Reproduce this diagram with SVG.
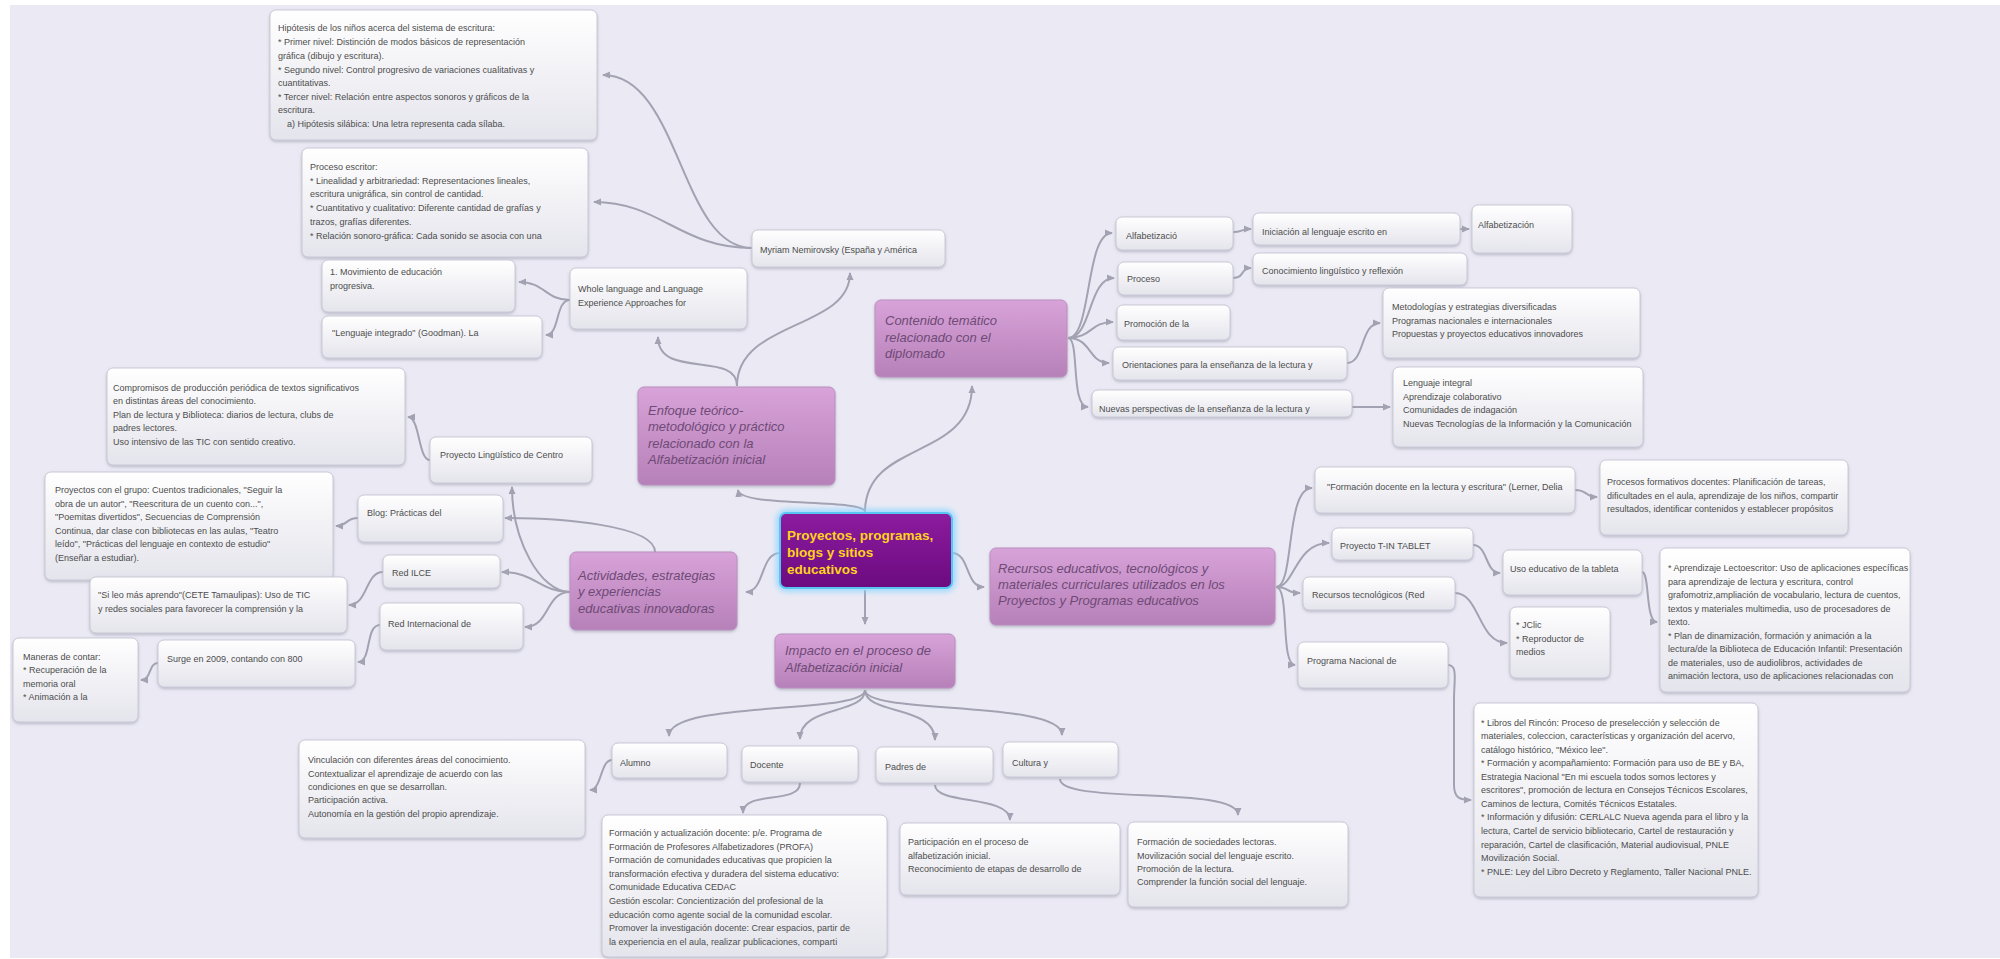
<svg xmlns="http://www.w3.org/2000/svg" width="2000" height="959" viewBox="0 0 2000 959">
<defs>
<linearGradient id="gw" x1="0" y1="0" x2="0" y2="1"><stop offset="0" stop-color="#ffffff"/><stop offset="1" stop-color="#e4e4ec"/></linearGradient>
<linearGradient id="gp" x1="0" y1="0" x2="0" y2="1"><stop offset="0" stop-color="#d8a3d9"/><stop offset="1" stop-color="#b680b8"/></linearGradient>
<linearGradient id="gc" x1="0" y1="0" x2="0" y2="1"><stop offset="0" stop-color="#8c1c9e"/><stop offset="1" stop-color="#6c0a80"/></linearGradient>
<filter id="sh" x="-10%" y="-10%" width="120%" height="130%"><feDropShadow dx="0" dy="1.5" stdDeviation="1.5" flood-color="#8e8ea4" flood-opacity="0.55"/></filter>
<filter id="glow" x="-20%" y="-20%" width="140%" height="140%"><feGaussianBlur stdDeviation="3"/></filter>
<marker id="ar" markerUnits="userSpaceOnUse" markerWidth="9" markerHeight="9" refX="7" refY="4" orient="auto"><path d="M0,0.5 L8,4 L0,7.5 z" fill="#a2a2b2"/></marker>
<style>
.n{fill:url(#gw);stroke:#cacad8;stroke-width:1;filter:url(#sh)}
.m{fill:url(#gp);stroke:#bb8fc0;stroke-width:1;filter:url(#sh)}
.t{font-family:"Liberation Sans",Arial,sans-serif;font-size:9px;fill:#4d4d4d}
.mt{font-family:"Liberation Sans",Arial,sans-serif;font-size:13px;font-style:italic;fill:#6e4a76}
.ct{font-family:"Liberation Sans",Arial,sans-serif;font-size:13.5px;font-weight:bold;fill:#ffd21c}
#links path{fill:none;stroke:#a2a2b2;stroke-width:2;marker-end:url(#ar)}
</style>
</defs>
<rect x="0" y="0" width="2000" height="959" fill="#ffffff"/>
<rect x="10" y="5" width="1990" height="953" fill="#ebeaf4"/>

<g id="links">
<path d="M865,512 C865,498 740,508 738,490"/>
<path d="M865,512 C865,440 972,460 972,386"/>
<path d="M780,553 C760,553 765,592 746,592"/>
<path d="M865,590 L865,624"/>
<path d="M952,553 C970,553 965,587 984,587"/>
<path d="M737,386 C737,350 658,380 658,337"/>
<path d="M737,386 C737,320 850,330 850,273"/>
<path d="M752,248 C680,248 680,75 603,75"/>
<path d="M752,248 C680,248 660,202 594,202"/>
<path d="M570,300 C545,300 545,282 519,282"/>
<path d="M570,300 C555,300 560,335 546,335"/>
<path d="M1068,338 C1092,338 1085,233 1112,233"/>
<path d="M1068,338 C1092,338 1088,278 1114,278"/>
<path d="M1068,338 C1092,338 1090,322 1113,322"/>
<path d="M1068,338 C1092,338 1088,363 1109,363"/>
<path d="M1068,338 C1080,338 1070,407 1088,407"/>
<path d="M1233,232 C1243,232 1240,229 1251,229"/>
<path d="M1460,229 L1469,229"/>
<path d="M1233,278 C1245,278 1240,268 1251,268"/>
<path d="M1347,363 C1365,363 1360,323 1380,323"/>
<path d="M1352,407 L1390,407"/>
<path d="M1276,587 C1295,587 1285,488 1312,488"/>
<path d="M1276,587 C1295,587 1295,543 1329,543"/>
<path d="M1276,587 C1290,587 1285,593 1300,593"/>
<path d="M1276,587 C1290,587 1280,665 1295,665"/>
<path d="M1575,490 C1588,490 1585,497 1597,497"/>
<path d="M1473,545 C1488,545 1485,573 1500,573"/>
<path d="M1455,593 C1480,593 1478,643 1507,643"/>
<path d="M1642,572 C1650,572 1645,622 1657,622"/>
<path d="M1448,665 C1458,665 1454,680 1454,700 L1454,785 C1454,798 1460,800 1471,800"/>
<path d="M570,592 C540,592 512,540 512,487"/>
<path d="M655,552 C655,525 560,518 505,518"/>
<path d="M570,592 C540,592 535,572 502,572"/>
<path d="M570,592 C545,592 550,627 525,627"/>
<path d="M430,460 C418,460 420,417 408,417"/>
<path d="M358,518 C345,518 348,526 336,526"/>
<path d="M383,572 C365,572 368,605 349,605"/>
<path d="M380,625 C365,625 372,662 358,662"/>
<path d="M158,663 C148,663 152,680 141,680"/>
<path d="M865,690 C865,715 669,700 669,736"/>
<path d="M865,690 C865,715 800,705 800,739"/>
<path d="M865,690 C865,715 935,705 935,740"/>
<path d="M865,690 C865,715 1062,700 1062,735"/>
<path d="M612,760 C600,760 602,790 590,790"/>
<path d="M800,783 C800,805 743,790 743,813"/>
<path d="M935,785 C935,805 1010,795 1010,820"/>
<path d="M1060,779 C1060,805 1238,785 1238,815"/>
</g>

<g id="n-hipotesis"><rect class="n" x="270" y="10" width="327" height="130" rx="6"/>
<text class="t" x="278" y="31">Hipótesis de los niños acerca del sistema de escritura:</text>
<text class="t" x="278" y="45">* Primer nivel: Distinción de modos básicos de representación</text>
<text class="t" x="278" y="59">gráfica (dibujo y escritura).</text>
<text class="t" x="278" y="73">* Segundo nivel: Control progresivo de variaciones cualitativas y</text>
<text class="t" x="278" y="86">cuantitativas.</text>
<text class="t" x="278" y="100">* Tercer nivel: Relación entre aspectos sonoros y gráficos de la</text>
<text class="t" x="278" y="113">escritura.</text>
<text class="t" x="287" y="127">a) Hipótesis silábica: Una letra representa cada sílaba.</text></g>

<g id="n-proceso-escritor"><rect class="n" x="302" y="148" width="286" height="109" rx="6"/>
<text class="t" x="310" y="170">Proceso escritor:</text>
<text class="t" x="310" y="184">* Linealidad y arbitrariedad: Representaciones lineales,</text>
<text class="t" x="310" y="197">escritura unigráfica, sin control de cantidad.</text>
<text class="t" x="310" y="211">* Cuantitativo y cualitativo: Diferente cantidad de grafías y</text>
<text class="t" x="310" y="225">trazos, grafías diferentes.</text>
<text class="t" x="310" y="239">* Relación sonoro-gráfica: Cada sonido se asocia con una</text></g>

<g id="n-movimiento"><rect class="n" x="322" y="260" width="193" height="52" rx="6"/>
<text class="t" x="330" y="275">1. Movimiento de educación</text>
<text class="t" x="330" y="289">progresiva.</text></g>

<g id="n-lenguaje-integrado"><rect class="n" x="322" y="316" width="220" height="42" rx="6"/>
<text class="t" x="332" y="336">"Lenguaje integrado" (Goodman). La</text></g>

<g id="n-whole"><rect class="n" x="570" y="268" width="177" height="61" rx="6"/>
<text class="t" x="578" y="292">Whole language and Language</text>
<text class="t" x="578" y="306">Experience Approaches for</text></g>

<g id="n-myriam"><rect class="n" x="752" y="230" width="193" height="37" rx="6"/>
<text class="t" x="760" y="253">Myriam Nemirovsky (España y América</text></g>

<g id="n-enfoque"><rect class="m" x="638" y="387" width="197" height="98" rx="6"/>
<text class="mt" x="648" y="415">Enfoque teórico-</text>
<text class="mt" x="648" y="431">metodológico y práctico</text>
<text class="mt" x="648" y="448">relacionado con la</text>
<text class="mt" x="648" y="464">Alfabetización inicial</text></g>

<g id="n-contenido"><rect class="m" x="875" y="300" width="192" height="77" rx="6"/>
<text class="mt" x="885" y="325">Contenido temático</text>
<text class="mt" x="885" y="342">relacionado con el</text>
<text class="mt" x="885" y="358">diplomado</text></g>

<g id="n-central">
<rect x="780" y="513" width="172" height="75" rx="6" fill="none" stroke="#86d4ff" stroke-width="6" filter="url(#glow)"/>
<rect x="780" y="513" width="172" height="75" rx="6" fill="url(#gc)" stroke="#58c4f2" stroke-width="2"/>
<text class="ct" x="787" y="540">Proyectos, programas,</text>
<text class="ct" x="787" y="557">blogs y sitios</text>
<text class="ct" x="787" y="574">educativos</text></g>

<g id="n-actividades"><rect class="m" x="570" y="552" width="167" height="78" rx="6"/>
<text class="mt" x="578" y="580">Actividades, estrategias</text>
<text class="mt" x="578" y="596">y experiencias</text>
<text class="mt" x="578" y="613">educativas innovadoras</text></g>

<g id="n-impacto"><rect class="m" x="775" y="634" width="180" height="54" rx="6"/>
<text class="mt" x="785" y="655">Impacto en el proceso de</text>
<text class="mt" x="785" y="672">Alfabetización inicial</text></g>

<g id="n-recursos"><rect class="m" x="990" y="548" width="285" height="77" rx="6"/>
<text class="mt" x="998" y="573">Recursos educativos, tecnológicos y</text>
<text class="mt" x="998" y="589">materiales curriculares utilizados en los</text>
<text class="mt" x="998" y="605">Proyectos y Programas educativos</text></g>

<g id="n-compromisos"><rect class="n" x="107" y="368" width="298" height="97" rx="6"/>
<text class="t" x="113" y="391">Compromisos de producción periódica de textos significativos</text>
<text class="t" x="113" y="404">en distintas áreas del conocimiento.</text>
<text class="t" x="113" y="418">Plan de lectura y Biblioteca: diarios de lectura, clubs de</text>
<text class="t" x="113" y="431">padres lectores.</text>
<text class="t" x="113" y="445">Uso intensivo de las TIC con sentido creativo.</text></g>

<g id="n-plc"><rect class="n" x="430" y="437" width="162" height="46" rx="6"/>
<text class="t" x="440" y="458">Proyecto Lingüístico de Centro</text></g>

<g id="n-proyectos-grupo"><rect class="n" x="45" y="472" width="288" height="108" rx="6"/>
<text class="t" x="55" y="493">Proyectos con el grupo: Cuentos tradicionales, "Seguir la</text>
<text class="t" x="55" y="507">obra de un autor", "Reescritura de un cuento con...",</text>
<text class="t" x="55" y="520">"Poemitas divertidos", Secuencias de Comprensión</text>
<text class="t" x="55" y="534">Continua, dar clase con bibliotecas en las aulas, "Teatro</text>
<text class="t" x="55" y="547">leído", "Prácticas del lenguaje en contexto de estudio"</text>
<text class="t" x="55" y="561">(Enseñar a estudiar).</text></g>

<g id="n-blog"><rect class="n" x="358" y="495" width="145" height="47" rx="6"/>
<text class="t" x="367" y="516">Blog: Prácticas del</text></g>

<g id="n-red-ilce"><rect class="n" x="383" y="555" width="117" height="33" rx="6"/>
<text class="t" x="392" y="576">Red ILCE</text></g>

<g id="n-si-leo"><rect class="n" x="90" y="577" width="257" height="56" rx="6"/>
<text class="t" x="98" y="598">"Si leo más aprendo"(CETE Tamaulipas): Uso de TIC</text>
<text class="t" x="98" y="612">y redes sociales para favorecer la comprensión y la</text></g>

<g id="n-red-int"><rect class="n" x="380" y="603" width="143" height="47" rx="6"/>
<text class="t" x="388" y="627">Red Internacional de</text></g>

<g id="n-surge"><rect class="n" x="158" y="640" width="197" height="47" rx="6"/>
<text class="t" x="167" y="662">Surge en 2009, contando con 800</text></g>

<g id="n-maneras"><rect class="n" x="13" y="638" width="125" height="84" rx="6"/>
<text class="t" x="23" y="660">Maneras de contar:</text>
<text class="t" x="23" y="673">* Recuperación de la</text>
<text class="t" x="23" y="687">memoria oral</text>
<text class="t" x="23" y="700">* Animación a la</text></g>

<g id="n-alumno"><rect class="n" x="612" y="743" width="115" height="35" rx="6"/>
<text class="t" x="620" y="766">Alumno</text></g>

<g id="n-docente"><rect class="n" x="742" y="746" width="116" height="36" rx="6"/>
<text class="t" x="750" y="768">Docente</text></g>

<g id="n-padres"><rect class="n" x="876" y="747" width="117" height="36" rx="6"/>
<text class="t" x="885" y="770">Padres de</text></g>

<g id="n-cultura"><rect class="n" x="1003" y="742" width="115" height="35" rx="6"/>
<text class="t" x="1012" y="766">Cultura y</text></g>

<g id="n-vinculacion"><rect class="n" x="299" y="740" width="286" height="98" rx="6"/>
<text class="t" x="308" y="763">Vinculación con diferentes áreas del conocimiento.</text>
<text class="t" x="308" y="777">Contextualizar el aprendizaje de acuerdo con las</text>
<text class="t" x="308" y="790">condiciones en que se desarrollan.</text>
<text class="t" x="308" y="803">Participación activa.</text>
<text class="t" x="308" y="817">Autonomía en la gestión del propio aprendizaje.</text></g>

<g id="n-docente-det"><rect class="n" x="602" y="815" width="285" height="142" rx="6"/>
<text class="t" x="609" y="836">Formación y actualización docente: p/e. Programa de</text>
<text class="t" x="609" y="850">Formación de Profesores Alfabetizadores (PROFA)</text>
<text class="t" x="609" y="863">Formación de comunidades educativas que propicien la</text>
<text class="t" x="609" y="877">transformación efectiva y duradera del sistema educativo:</text>
<text class="t" x="609" y="890">Comunidade Educativa CEDAC</text>
<text class="t" x="609" y="904">Gestión escolar: Concientización del profesional de la</text>
<text class="t" x="609" y="918">educación como agente social de la comunidad escolar.</text>
<text class="t" x="609" y="931">Promover la investigación docente: Crear espacios, partir de</text>
<text class="t" x="609" y="945">la experiencia en el aula, realizar publicaciones, comparti</text></g>

<g id="n-padres-det"><rect class="n" x="900" y="823" width="220" height="72" rx="6"/>
<text class="t" x="908" y="845">Participación en el proceso de</text>
<text class="t" x="908" y="859">alfabetización inicial.</text>
<text class="t" x="908" y="872">Reconocimiento de etapas de desarrollo de</text></g>

<g id="n-cultura-det"><rect class="n" x="1128" y="822" width="220" height="85" rx="6"/>
<text class="t" x="1137" y="845">Formación de sociedades lectoras.</text>
<text class="t" x="1137" y="859">Movilización social del lenguaje escrito.</text>
<text class="t" x="1137" y="872">Promoción de la lectura.</text>
<text class="t" x="1137" y="885">Comprender la función social del lenguaje.</text></g>

<g id="n-alfabetizacio"><rect class="n" x="1116" y="217" width="117" height="33" rx="6"/>
<text class="t" x="1126" y="239">Alfabetizació</text></g>

<g id="n-iniciacion"><rect class="n" x="1253" y="213" width="207" height="32" rx="6"/>
<text class="t" x="1262" y="235">Iniciación al lenguaje escrito en</text></g>

<g id="n-alfabetizacion"><rect class="n" x="1472" y="205" width="100" height="48" rx="6"/>
<text class="t" x="1478" y="228">Alfabetización</text></g>

<g id="n-proceso"><rect class="n" x="1118" y="262" width="115" height="33" rx="6"/>
<text class="t" x="1127" y="282">Proceso</text></g>

<g id="n-conocimiento"><rect class="n" x="1253" y="253" width="214" height="32" rx="6"/>
<text class="t" x="1262" y="274">Conocimiento lingüístico y reflexión</text></g>

<g id="n-promocion"><rect class="n" x="1117" y="305" width="113" height="35" rx="6"/>
<text class="t" x="1124" y="327">Promoción de la</text></g>

<g id="n-orientaciones"><rect class="n" x="1113" y="347" width="234" height="33" rx="6"/>
<text class="t" x="1122" y="368">Orientaciones para la enseñanza de la lectura y</text></g>

<g id="n-metodologias"><rect class="n" x="1383" y="288" width="257" height="70" rx="6"/>
<text class="t" x="1392" y="310">Metodologías y estrategias diversificadas</text>
<text class="t" x="1392" y="324">Programas nacionales e internacionales</text>
<text class="t" x="1392" y="337">Propuestas y proyectos educativos innovadores</text></g>

<g id="n-nuevas"><rect class="n" x="1092" y="390" width="260" height="27" rx="6"/>
<text class="t" x="1099" y="412">Nuevas perspectivas de la enseñanza de la lectura y</text></g>

<g id="n-lenguaje-integral"><rect class="n" x="1393" y="367" width="250" height="80" rx="6"/>
<text class="t" x="1403" y="386">Lenguaje integral</text>
<text class="t" x="1403" y="400">Aprendizaje colaborativo</text>
<text class="t" x="1403" y="413">Comunidades de indagación</text>
<text class="t" x="1403" y="427">Nuevas Tecnologías de la Información y la Comunicación</text></g>

<g id="n-formacion-docente"><rect class="n" x="1315" y="467" width="260" height="46" rx="6"/>
<text class="t" x="1327" y="490">"Formación docente en la lectura y escritura" (Lerner, Delia</text></g>

<g id="n-procesos-formativos"><rect class="n" x="1600" y="460" width="248" height="75" rx="6"/>
<text class="t" x="1607" y="485">Procesos formativos docentes: Planificación de tareas,</text>
<text class="t" x="1607" y="499">dificultades en el aula, aprendizaje de los niños, compartir</text>
<text class="t" x="1607" y="512">resultados, identificar contenidos y establecer propósitos</text></g>

<g id="n-tin"><rect class="n" x="1332" y="528" width="141" height="32" rx="6"/>
<text class="t" x="1340" y="549">Proyecto T-IN TABLET</text></g>

<g id="n-uso"><rect class="n" x="1503" y="550" width="139" height="45" rx="6"/>
<text class="t" x="1510" y="572">Uso educativo de la tableta</text></g>

<g id="n-aprendizaje"><rect class="n" x="1660" y="548" width="250" height="144" rx="6"/>
<text class="t" x="1668" y="571">* Aprendizaje Lectoescritor: Uso de aplicaciones específicas</text>
<text class="t" x="1668" y="585">para aprendizaje de lectura y escritura, control</text>
<text class="t" x="1668" y="598">grafomotriz,ampliación de vocabulario, lectura de cuentos,</text>
<text class="t" x="1668" y="612">textos y materiales multimedia, uso de procesadores de</text>
<text class="t" x="1668" y="625">texto.</text>
<text class="t" x="1668" y="639">* Plan de dinamización, formación y animación a la</text>
<text class="t" x="1668" y="652">lectura/de la Biblioteca de Educación Infantil: Presentación</text>
<text class="t" x="1668" y="666">de materiales, uso de audiolibros, actividades de</text>
<text class="t" x="1668" y="679">animación lectora, uso de aplicaciones relacionadas con</text></g>

<g id="n-recursos-tec"><rect class="n" x="1303" y="577" width="152" height="33" rx="6"/>
<text class="t" x="1312" y="598">Recursos tecnológicos (Red</text></g>

<g id="n-jclic"><rect class="n" x="1510" y="607" width="100" height="71" rx="6"/>
<text class="t" x="1516" y="628">* JClic</text>
<text class="t" x="1516" y="642">* Reproductor de</text>
<text class="t" x="1516" y="655">medios</text></g>

<g id="n-programa"><rect class="n" x="1298" y="642" width="150" height="46" rx="6"/>
<text class="t" x="1307" y="664">Programa Nacional de</text></g>

<g id="n-libros"><rect class="n" x="1474" y="703" width="284" height="194" rx="6"/>
<text class="t" x="1481" y="726">* Libros del Rincón: Proceso de preselección y selección de</text>
<text class="t" x="1481" y="739">materiales, coleccion, características y organización del acervo,</text>
<text class="t" x="1481" y="753">catálogo histórico, "México lee".</text>
<text class="t" x="1481" y="766">* Formación y acompañamiento: Formación para uso de BE y BA,</text>
<text class="t" x="1481" y="780">Estrategia Nacional "En mi escuela todos somos lectores y</text>
<text class="t" x="1481" y="793">escritores", promoción de lectura en Consejos Técnicos Escolares,</text>
<text class="t" x="1481" y="807">Caminos de lectura, Comités Técnicos Estatales.</text>
<text class="t" x="1481" y="820">* Información y difusión: CERLALC Nueva agenda para el libro y la</text>
<text class="t" x="1481" y="834">lectura, Cartel de servicio bibliotecario, Cartel de restauración y</text>
<text class="t" x="1481" y="848">reparación, Cartel de clasificación, Material audiovisual, PNLE</text>
<text class="t" x="1481" y="861">Movilización Social.</text>
<text class="t" x="1481" y="875">* PNLE: Ley del Libro Decreto y Reglamento, Taller Nacional PNLE.</text></g>
</svg>
